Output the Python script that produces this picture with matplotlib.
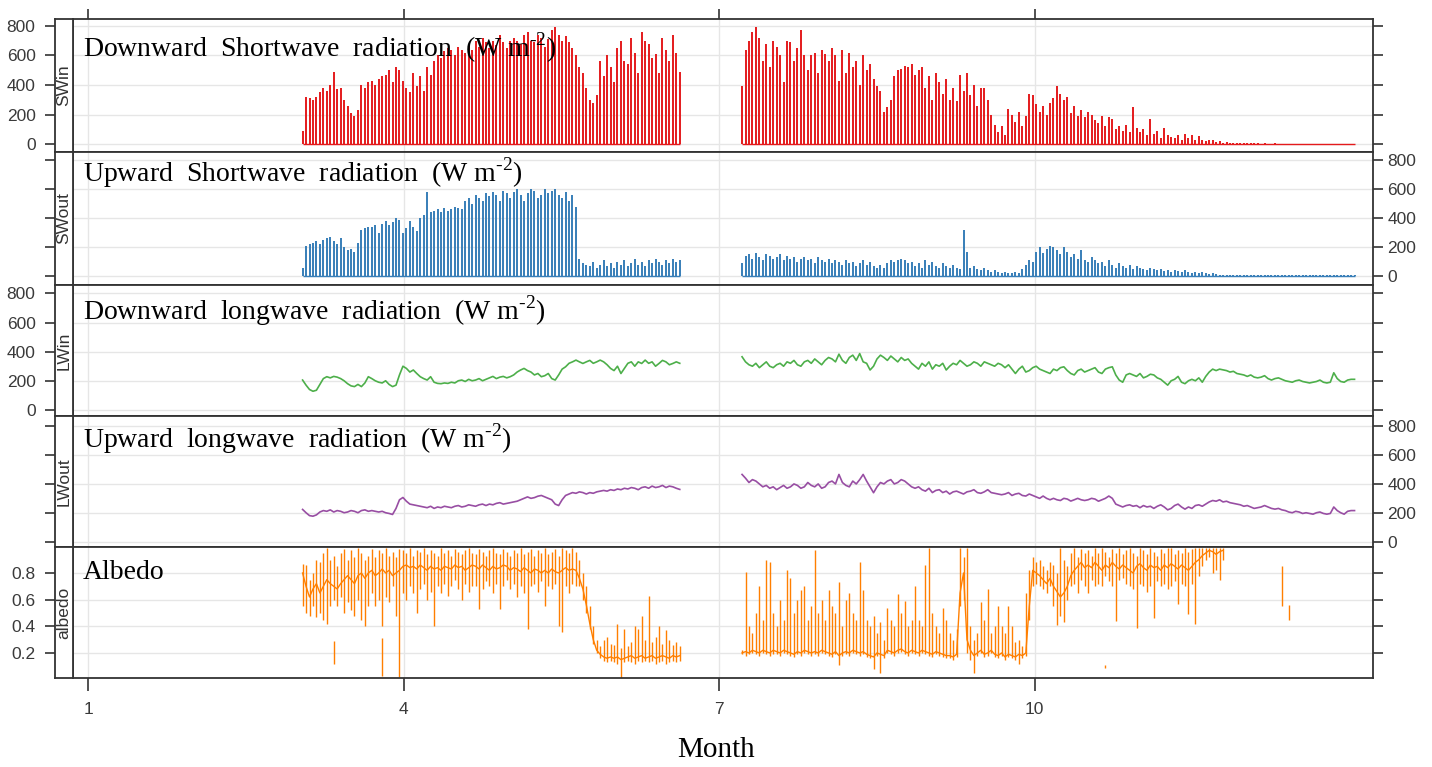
import numpy as np
import matplotlib
matplotlib.use('Agg')
import matplotlib.pyplot as plt

plt.rcParams['mathtext.fontset'] = 'custom'
plt.rcParams['mathtext.rm'] = 'Liberation Serif'

# ---- daily values ----
# pre-gap record starts at day-of-year 63, post-gap record at day-of-year 190
start_pre = 63
start_post = 190

# daily peak of downward shortwave (W m-2)
swin_pre = [90, 320, 310, 300, 320, 350, 380, 360, 400, 490,
            370, 380, 300, 260, 210, 190, 230, 400, 380, 420,
            430, 400, 440, 460, 470, 500, 420, 520, 500, 430,
            380, 350, 480, 390, 460, 360, 520, 470, 560, 600,
            580, 630, 650, 640, 600, 660, 640, 620, 680, 640,
            700, 660, 720, 690, 650, 700, 670, 740, 690, 650,
            700, 720, 700, 680, 740, 760, 700, 690, 740, 720,
            660, 710, 770, 790, 740, 700, 730, 690, 650, 600,
            520, 480, 380, 300, 280, 330, 560, 460, 600, 520,
            420, 650, 700, 560, 540, 720, 620, 480, 760, 700,
            680, 580, 610, 480, 720, 640, 560, 740, 620, 490]
swin_post = [390, 640, 700, 760, 790, 720, 560, 680, 520, 700,
             660, 600, 420, 700, 690, 560, 650, 770, 600, 500,
             600, 620, 480, 640, 610, 560, 650, 600, 430, 640,
             480, 620, 520, 560, 400, 600, 500, 540, 440, 390,
             360, 220, 250, 300, 460, 500, 510, 530, 520, 540,
             470, 500, 520, 380, 460, 300, 480, 420, 340, 440,
             300, 380, 290, 470, 360, 480, 330, 400, 260, 380,
             380, 300, 200, 130, 80, 120, 60, 240, 200, 150,
             220, 120, 190, 340, 330, 270, 220, 260, 200, 280,
             310, 390, 340, 300, 320, 210, 260, 190, 230, 180,
             220, 200, 160, 140, 190, 120, 180, 170, 100, 120,
             90, 130, 80, 250, 110, 80, 100, 60, 170, 70,
             90, 40, 110, 60, 50, 40, 60, 30, 70, 40,
             60, 30, 55, 30, 20, 25, 30, 15, 20, 10,
             15, 10, 10, 8, 5, 5, 4, 5, 4, 4,
             3, 4, 3, 3, 4, 3, 3, 3, 3, 3,
             3, 3, 3, 3, 3, 3, 3, 3, 3, 3,
             3, 3, 3, 3, 3, 3, 3, 3]

# daily peak of upward shortwave (W m-2)
swout_pre = [60, 210, 220, 230, 240, 220, 250, 260, 270, 240,
             220, 260, 200, 180, 190, 170, 230, 320, 330, 340,
             340, 350, 300, 360, 380, 350, 370, 400, 390, 300,
             330, 380, 340, 310, 400, 420, 580, 440, 450, 460,
             440, 470, 450, 460, 480, 470, 460, 520, 540, 500,
             560, 540, 520, 570, 550, 580, 560, 520, 590, 570,
             540, 580, 600, 560, 520, 570, 600, 590, 540, 560,
             600, 570, 590, 600, 560, 540, 580, 520, 560, 480,
             120, 90, 80, 70, 100, 60, 80, 110, 70, 90,
             60, 100, 80, 110, 70, 90, 120, 80, 100, 70,
             110, 90, 120, 100, 80, 110, 90, 120, 100, 110]
swout_post = [90, 140, 150, 120, 160, 130, 110, 150, 140, 120,
              130, 150, 110, 140, 120, 130, 100, 120, 130, 110,
              120, 90, 130, 110, 100, 120, 90, 110, 100, 80,
              110, 90, 100, 70, 90, 110, 80, 100, 70, 60,
              80, 60, 90, 110, 100, 110, 120, 110, 90, 100,
              70, 90, 60, 110, 80, 100, 70, 60, 90, 70,
              60, 80, 60, 50, 320, 170, 60, 70, 50, 40,
              60, 40, 30, 40, 30, 20, 30, 25, 20, 30,
              25, 50, 80, 110, 100, 170, 200, 160, 190, 210,
              200, 180, 150, 200, 170, 130, 150, 120, 180, 110,
              100, 130, 110, 90, 100, 70, 110, 80, 60, 90,
              70, 60, 80, 50, 70, 60, 50, 40, 60, 50,
              40, 50, 35, 45, 30, 40, 35, 30, 40, 30,
              25, 30, 20, 30, 20, 15, 20, 15, 10, 12,
              10, 8, 10, 8, 10, 8, 6, 8, 6, 8,
              6, 8, 6, 6, 8, 6, 6, 8, 6, 6,
              6, 8, 6, 6, 8, 6, 8, 6, 6, 8,
              6, 6, 8, 6, 6, 8, 6, 6]

# daily downward longwave (W m-2)
lwin_pre = [205, 170, 140, 128, 135, 175, 215, 228, 220, 230,
            225, 215, 200, 180, 165, 160, 175, 160, 185, 228,
            215, 200, 190, 185, 200, 175, 160, 170, 240, 300,
            285, 260, 274, 250, 228, 215, 205, 228, 190, 182,
            180, 185, 182, 190, 185, 200, 205, 195, 210, 200,
            205, 215, 200, 210, 220, 230, 215, 225, 230, 220,
            228, 240, 260, 274, 285, 270, 260, 240, 250, 228,
            235, 250, 215, 205, 240, 280, 296, 320, 330, 342,
            330, 319, 330, 340, 320, 330, 342, 330, 310, 285,
            270, 300, 250, 285, 320, 330, 300, 330, 319, 342,
            320, 330, 300, 319, 340, 330, 310, 319, 330, 320]
lwin_post = [365, 330, 310, 300, 320, 290, 310, 330, 300, 290,
             310, 320, 300, 330, 320, 340, 310, 300, 330, 340,
             320, 350, 330, 310, 340, 360, 350, 330, 383, 340,
             320, 360, 376, 340, 387, 330, 320, 274, 300, 350,
             376, 360, 340, 370, 350, 330, 360, 340, 350, 320,
             300, 280, 320, 300, 330, 280, 310, 300, 320, 274,
             300, 320, 310, 340, 320, 300, 310, 330, 320, 300,
             330, 320, 310, 300, 320, 310, 290, 310, 280, 250,
             280, 300, 260, 270, 290, 300, 280, 270, 260, 250,
             280, 270, 290, 296, 270, 250, 240, 270, 280, 260,
             270, 280, 290, 260, 250, 280, 290, 296, 240, 205,
             190, 240, 250, 240, 230, 250, 220, 230, 245, 240,
             220, 210, 190, 170, 200, 210, 230, 190, 180, 200,
             210, 200, 220, 190, 230, 260, 280, 270, 280, 275,
             270, 260, 265, 250, 245, 240, 230, 240, 225, 220,
             225, 235, 215, 205, 215, 220, 210, 200, 195, 190,
             200, 205, 195, 190, 185, 190, 195, 205, 190, 185,
             190, 255, 215, 195, 190, 205, 210, 210]

# daily upward longwave (W m-2)
lwout_pre = [223, 200, 180, 176, 185, 205, 215, 210, 220, 205,
             215, 210, 200, 205, 215, 210, 200, 215, 220, 210,
             215, 210, 205, 210, 200, 195, 188, 230, 290, 306,
             280, 260, 255, 250, 245, 240, 235, 245, 230, 240,
             235, 245, 240, 235, 245, 250, 240, 245, 255, 250,
             245, 255, 260, 250, 260, 255, 265, 270, 260, 265,
             270, 275, 280, 290, 300, 310, 300, 305, 315, 320,
             310, 300, 290, 260, 250, 290, 320, 330, 340, 335,
             345, 340, 330, 340, 335, 345, 350, 355, 350, 360,
             355, 365, 360, 370, 365, 375, 370, 360, 375, 380,
             370, 385, 375, 380, 390, 375, 385, 380, 370, 362]
lwout_post = [466, 440, 410, 430, 420, 400, 380, 390, 370, 380,
              360, 375, 390, 370, 380, 400, 390, 370, 380, 410,
              390, 380, 400, 370, 380, 410, 420, 400, 466, 410,
              390, 380, 420, 400, 430, 466, 420, 380, 339, 380,
              410, 400, 420, 430, 400, 410, 430, 420, 400, 380,
              370, 380, 360, 350, 370, 340, 355, 360, 340, 350,
              330, 345, 350, 340, 330, 345, 350, 360, 340, 335,
              345, 360, 340, 335, 330, 325, 330, 340, 320, 330,
              335, 320, 316, 330, 320, 310, 300, 316, 300, 290,
              300, 290, 285, 300, 295, 281, 290, 300, 290, 285,
              290, 300, 295, 280, 290, 300, 316, 300, 260, 250,
              240, 250, 255, 245, 250, 235, 250, 240, 245, 230,
              245, 255, 240, 220, 230, 250, 260, 240, 225, 240,
              230, 250, 255, 245, 260, 275, 285, 280, 290, 275,
              280, 270, 265, 260, 255, 245, 250, 240, 230, 235,
              240, 250, 240, 230, 225, 230, 220, 215, 205, 200,
              210, 205, 195, 200, 195, 190, 200, 205, 195, 190,
              195, 240, 215, 200, 190, 210, 215, 215]

# albedo: typical (midday), daily max and daily min
alb_base_pre = [0.80, 0.70, 0.62, 0.68, 0.72, 0.65, 0.70, 0.75, 0.72, 0.70,
                0.68, 0.72, 0.75, 0.78, 0.75, 0.72, 0.78, 0.80, 0.76, 0.80,
                0.82, 0.78, 0.80, 0.83, 0.80, 0.82, 0.78, 0.80, 0.82, 0.85,
                0.86, 0.84, 0.85, 0.83, 0.86, 0.84, 0.82, 0.85, 0.83, 0.84,
                0.82, 0.85, 0.84, 0.83, 0.86, 0.84, 0.85, 0.82, 0.84, 0.86,
                0.85, 0.83, 0.86, 0.84, 0.82, 0.85, 0.83, 0.84, 0.86, 0.85,
                0.82, 0.84, 0.83, 0.81, 0.84, 0.82, 0.80, 0.83, 0.82, 0.80,
                0.82, 0.80, 0.83, 0.81, 0.80, 0.82, 0.84, 0.82, 0.83, 0.82,
                0.76, 0.68, 0.56, 0.42, 0.30, 0.22, 0.19, 0.17, 0.16, 0.17,
                0.16, 0.17, 0.15, 0.16, 0.17, 0.18, 0.16, 0.17, 0.18, 0.16,
                0.17, 0.18, 0.16, 0.17, 0.18, 0.17, 0.16, 0.18, 0.17, 0.18]
alb_hi_pre = [0.87, 0.86, 0.75, 0.80, 0.90, 0.88, 0.95, 0.99, 0.90, 0.93,
              0.85, 0.95, 0.98, 0.90, 0.97, 0.92, 0.99, 0.95, 0.90, 0.93,
              0.98, 0.92, 0.97, 0.95, 0.99, 0.93, 0.96, 0.92, 0.98, 0.97,
              0.95, 0.99, 0.93, 0.97, 0.96, 0.99, 0.94, 0.97, 0.95, 0.93,
              0.99, 0.95, 0.97, 0.93, 0.98, 0.96, 0.94, 0.97, 0.99, 0.95,
              0.94, 0.98, 0.96, 0.93, 0.97, 0.99, 0.95, 0.94, 0.98, 0.96,
              0.93, 0.97, 0.95, 0.99, 0.94, 0.96, 0.98, 0.93, 0.97, 0.95,
              0.99, 0.94, 0.96, 0.98, 0.93, 0.99, 0.97, 0.95, 0.99, 0.96,
              0.90, 0.80, 0.70, 0.55, 0.40, 0.30, 0.25, 0.30, 0.32, 0.27,
              0.26, 0.42, 0.24, 0.38, 0.25, 0.28, 0.40, 0.38, 0.48, 0.30,
              0.63, 0.28, 0.32, 0.40, 0.27, 0.37, 0.30, 0.26, 0.28, 0.25]
alb_lo_pre = [0.55, 0.50, 0.48, 0.55, 0.47, 0.50, 0.45, 0.42, 0.55, 0.60,
              0.55, 0.62, 0.50, 0.58, 0.52, 0.48, 0.60, 0.45, 0.40, 0.55,
              0.65, 0.55, 0.60, 0.40, 0.62, 0.58, 0.70, 0.48, 0.02, 0.65,
              0.60, 0.70, 0.65, 0.50, 0.68, 0.72, 0.60, 0.66, 0.40, 0.70,
              0.65, 0.72, 0.63, 0.70, 0.75, 0.68, 0.60, 0.72, 0.66, 0.70,
              0.70, 0.53, 0.68, 0.74, 0.70, 0.65, 0.72, 0.53, 0.70, 0.75,
              0.68, 0.72, 0.62, 0.70, 0.65, 0.38, 0.70, 0.72, 0.66, 0.74,
              0.55, 0.70, 0.68, 0.72, 0.40, 0.36, 0.70, 0.65, 0.72, 0.70,
              0.70, 0.60, 0.50, 0.38, 0.27, 0.20, 0.16, 0.14, 0.13, 0.14,
              0.13, 0.12, 0.01, 0.13, 0.14, 0.13, 0.12, 0.14, 0.13, 0.14,
              0.13, 0.14, 0.12, 0.13, 0.14, 0.12, 0.13, 0.14, 0.13, 0.14]
alb_base_post = [0.20, 0.21, 0.20, 0.22, 0.21, 0.20, 0.22, 0.21, 0.20, 0.22,
                 0.21, 0.20, 0.22, 0.21, 0.20, 0.19, 0.21, 0.20, 0.22, 0.21,
                 0.20, 0.21, 0.20, 0.22, 0.21, 0.20, 0.19, 0.21, 0.18, 0.20,
                 0.21, 0.20, 0.22, 0.21, 0.20, 0.21, 0.19, 0.18, 0.17, 0.20,
                 0.19, 0.18, 0.22, 0.21, 0.20, 0.22, 0.23, 0.21, 0.20, 0.22,
                 0.21, 0.20, 0.22, 0.21, 0.20, 0.19, 0.21, 0.20, 0.19, 0.18,
                 0.18, 0.17, 0.19, 0.65, 0.80, 0.30, 0.22, 0.18, 0.20, 0.22,
                 0.19, 0.20, 0.22, 0.19, 0.18, 0.20, 0.17, 0.19, 0.18, 0.17,
                 0.19, 0.18, 0.20, 0.55, 0.82, 0.80, 0.78, 0.75, 0.72, 0.76,
                 0.70, 0.66, 0.62, 0.65, 0.70, 0.78, 0.82, 0.85, 0.88, 0.84,
                 0.86, 0.84, 0.88, 0.85, 0.82, 0.86, 0.84, 0.88, 0.85, 0.83,
                 0.86, 0.84, 0.82, 0.80, 0.85, 0.87, 0.84, 0.82, 0.86, 0.84,
                 0.85, 0.82, 0.86, 0.84, 0.87, 0.85, 0.83, 0.86, 0.84, 0.82,
                 0.85, 0.88, 0.90, 0.93, 0.95, 0.97, 0.96, 0.94, 0.96, 0.97]
alb_hi_post = [0.22, 0.81, 0.40, 0.35, 0.50, 0.70, 0.45, 0.90, 0.88, 0.50,
               0.40, 0.60, 0.45, 0.82, 0.76, 0.50, 0.60, 0.67, 0.70, 0.45,
               0.55, 0.97, 0.50, 0.60, 0.45, 0.67, 0.55, 0.50, 0.73, 0.40,
               0.60, 0.65, 0.50, 0.45, 0.88, 0.67, 0.45, 0.40, 0.48, 0.35,
               0.43, 0.30, 0.54, 0.45, 0.40, 0.64, 0.50, 0.59, 0.40, 0.45,
               0.70, 0.45, 0.40, 0.86, 0.99, 0.50, 0.40, 0.35, 0.54, 0.45,
               0.35, 0.30, 0.38, 0.99, 0.92, 0.99, 0.40, 0.30, 0.35, 0.58,
               0.45, 0.68, 0.35, 0.40, 0.55, 0.40, 0.35, 0.55, 0.40, 0.28,
               0.30, 0.25, 0.65, 0.82, 0.92, 0.88, 0.90, 0.85, 0.82, 0.88,
               0.86, 0.80, 0.99, 0.90, 0.85, 0.95, 0.99, 0.92, 0.98, 0.95,
               0.97, 0.93, 0.99, 0.95, 0.99, 0.96, 0.92, 0.98, 0.95, 0.99,
               0.94, 0.97, 0.99, 0.95, 0.93, 0.99, 0.97, 0.94, 0.99, 0.96,
               0.93, 0.98, 0.95, 0.99, 0.99, 0.94, 0.97, 0.95, 0.99, 0.96,
               0.98, 0.99, 0.99, 0.99, 0.99, 0.99, 0.99, 0.99, 0.99, 0.99]
alb_lo_post = [0.19, 0.18, 0.19, 0.20, 0.19, 0.18, 0.20, 0.19, 0.18, 0.19,
               0.19, 0.18, 0.20, 0.19, 0.18, 0.17, 0.19, 0.18, 0.20, 0.19,
               0.18, 0.19, 0.18, 0.20, 0.19, 0.18, 0.17, 0.19, 0.11, 0.18,
               0.19, 0.18, 0.20, 0.19, 0.18, 0.19, 0.17, 0.16, 0.08, 0.18,
               0.05, 0.16, 0.20, 0.19, 0.18, 0.20, 0.21, 0.19, 0.18, 0.20,
               0.19, 0.18, 0.20, 0.19, 0.18, 0.17, 0.19, 0.18, 0.17, 0.16,
               0.16, 0.15, 0.17, 0.55, 0.60, 0.20, 0.15, 0.05, 0.18, 0.20,
               0.17, 0.18, 0.20, 0.17, 0.16, 0.18, 0.15, 0.17, 0.16, 0.15,
               0.12, 0.16, 0.18, 0.45, 0.70, 0.72, 0.70, 0.68, 0.65, 0.70,
               0.55, 0.41, 0.48, 0.43, 0.60, 0.70, 0.72, 0.65, 0.75, 0.70,
               0.65, 0.75, 0.70, 0.72, 0.70, 0.78, 0.74, 0.70, 0.44, 0.75,
               0.76, 0.72, 0.70, 0.68, 0.39, 0.72, 0.70, 0.66, 0.70, 0.46,
               0.74, 0.70, 0.72, 0.68, 0.70, 0.74, 0.57, 0.72, 0.70, 0.49,
               0.72, 0.42, 0.78, 0.85, 0.90, 0.92, 0.80, 0.82, 0.75, 0.90]
# isolated albedo fragments: day-of-year, top, bottom
alb_iso_doy = [72, 86, 295, 346, 348]
alb_iso_top = [0.29, 0.31, 0.11, 0.85, 0.56]
alb_iso_bot = [0.12, 0.03, 0.09, 0.55, 0.45]

month_ticks = [1, 4, 7, 10]
panel_names = ['SWin', 'SWout', 'LWin', 'LWout', 'albedo']
unit = ' (W m$^{\\text{-2}}$)'
panel_titles = ['Downward  Shortwave  radiation ' + unit,
                'Upward  Shortwave  radiation ' + unit,
                'Downward  longwave  radiation ' + unit,
                'Upward  longwave  radiation ' + unit,
                'Albedo']
colors = ['#E41A1C', '#377EB8', '#4DAF4A', '#984EA3', '#FF7F00']


def to_month(doy):
    return 1 + (np.asarray(doy, dtype=float) - 1) / 30.4


def days(start, vals):
    return to_month(start + np.arange(len(vals)))


W, H = 1432, 767
fig = plt.figure(figsize=(W / 100, H / 100), dpi=100)
bounds = [(19, 152), (152, 285), (285, 416), (416, 547), (547, 678)]
ylims = [(-54, 847), (-60, 855), (-42, 858), (-38, 872), (0.012, 0.995)]
title_base = [57, 182, 320, 448, 579]
edge = '#333333'
label_col = '#3a3a3a'

for i, (top, bot) in enumerate(bounds):
    ax = fig.add_axes([73 / W, 1 - bot / H, 1300 / W, (bot - top) / H])
    sax = fig.add_axes([55 / W, 1 - bot / H, 18 / W, (bot - top) / H], sharey=ax)
    c = colors[i]

    if i < 2:
        pre = swin_pre if i == 0 else swout_pre
        post = swin_post if i == 0 else swout_post
        for start, vals in [(start_pre, pre), (start_post, post)]:
            x = days(start, vals)
            ax.vlines(x, 0, vals, color=c, lw=1.4)
            ax.hlines(0, x[0], x[-1], color=c, lw=1.0)
    elif i < 4:
        pre = lwin_pre if i == 2 else lwout_pre
        post = lwin_post if i == 2 else lwout_post
        for start, vals in [(start_pre, pre), (start_post, post)]:
            ax.plot(days(start, vals), vals, color=c, lw=1.2)
    else:
        for start, base, lo, hi in [(start_pre, alb_base_pre, alb_lo_pre, alb_hi_pre),
                                    (start_post, alb_base_post, alb_lo_post, alb_hi_post)]:
            x = days(start, base)
            ax.vlines(x, lo, hi, color=c, lw=1.0)
            ax.plot(x, base, color=c, lw=1.0)
        ax.vlines(to_month(alb_iso_doy), alb_iso_bot, alb_iso_top, color=c, lw=1.0)

    ax.set_xlim(0.857, 13.215)
    ax.set_ylim(*ylims[i])
    if i < 4:
        ax.set_yticks([0, 200, 400, 600, 800])
    else:
        ax.set_yticks([0.2, 0.4, 0.6, 0.8])
        ax.set_yticklabels(['0.2', '0.4', '0.6', '0.8'])
    ax.set_xticks(month_ticks)
    ax.grid(True, color='#e6e6e6', lw=1)
    ax.set_axisbelow(True)

    for sp in list(ax.spines.values()) + list(sax.spines.values()):
        sp.set_color(edge)
        sp.set_linewidth(1.3)

    ax.tick_params(axis='y', left=False, right=True, labelleft=False,
                   labelright=(i % 2 == 1), direction='out', length=7,
                   width=1.2, color=edge, pad=3.5, labelcolor=label_col)
    sax.tick_params(axis='y', left=True, right=False, labelleft=(i % 2 == 0),
                    labelright=False, direction='out', length=7, width=1.2,
                    color=edge, pad=7, labelcolor=label_col)
    for lab in ax.get_yticklabels() + sax.get_yticklabels():
        lab.set_fontfamily('Liberation Sans')
        lab.set_fontsize(12.5)

    if i == 0:
        ax.tick_params(axis='x', top=True, bottom=False, labeltop=False,
                       labelbottom=False, direction='out', length=7,
                       width=1.2, color=edge)
    elif i == 4:
        ax.tick_params(axis='x', top=False, bottom=True, labelbottom=True,
                       direction='out', length=9, width=1.2, color=edge,
                       pad=8, labelcolor=label_col)
        ax.set_xticklabels([str(m) for m in month_ticks],
                           family='Liberation Sans', size=12.5)
    else:
        ax.tick_params(axis='x', length=0, labelbottom=False)

    sax.set_xticks([])
    sax.text(0.5, 0.5, panel_names[i], transform=sax.transAxes, rotation=90,
             ha='center', va='center', family='Liberation Sans', size=12.5,
             color=edge)

    fig.text(83 / W, 1 - title_base[i] / H, panel_titles[i],
             family='Liberation Serif', size=20, va='baseline', color='black')

fig.text(716 / W, 1 - 750 / H, 'Month', ha='center', va='center',
         family='Liberation Serif', size=21)

fig.savefig('out.png', dpi=100)
